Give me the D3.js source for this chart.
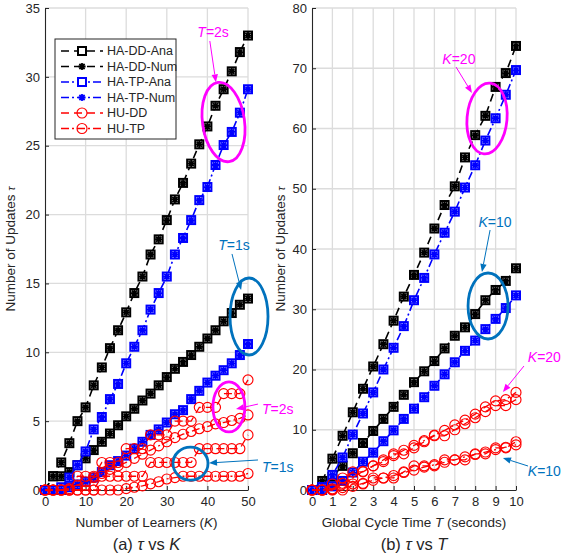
<!DOCTYPE html>
<html>
<head>
<meta charset="utf-8">
<script src="https://cdn.jsdelivr.net/npm/d3@7"></script>
<style>
body { margin: 0; background: #fff; }
text { font-family: "Liberation Sans", Arial, sans-serif; fill: #262626; }
</style>
</head>
<body>
<svg id="chart" width="564" height="557"></svg>
<script>
// ---- data: panel (a), tau vs K ----
var kVals = [0,2,4,6,8,10,12,14,16,18,20,22,24,26,28,30,32,34,36,38,40,42,44,46,48,50];
var haDD_T2 = [0,1,2,3.4,5,6,7.6,8.9,10.3,11.6,12.9,14.3,15.5,17.1,18.2,19.6,21.1,22.3,23.7,25.1,26.4,27.9,29.1,30.4,31.8,33.0];
var haDD_T1 = [0,1,1,1.3,1.8,2.3,2.9,3.5,4.1,4.7,5.35,5.9,6.5,7.0,7.6,8.2,8.8,9.3,9.8,10.4,11.0,11.6,12.25,12.85,13.45,13.9];
var haTP_T2 = [0,0,0.2,0.9,1.8,2.8,4.4,5.3,6.6,7.7,9.2,10.4,11.6,13.1,14.3,15.5,17.1,18.3,19.6,21.05,22.0,23.6,25.05,26.0,27.4,29.1];
var haTP_T1 = [0,0,0,0.2,0.4,0.6,0.9,1.3,1.8,2.1,2.5,3.0,3.5,4.0,4.4,4.9,5.5,5.8,6.6,7.2,7.8,8.3,8.7,9.2,9.8,10.6];
var huDD_T2 = [0,0,0,0,1,1,1,2,2,2,3,3,3,4,4,4,5,5,5,6,6,6,7,7,7,8];
var huDD_T1 = [0,0,0,0,0,0,0,1,1,1,1,1,1,2,2,2,2,2,2,3,3,3,3,3,3,4];
var huTP_T2 = [0,0,0,0.1,0.35,0.6,0.9,1.2,1.5,1.75,2.0,2.3,2.6,2.9,3.2,3.5,3.8,4.05,4.25,4.45,4.6,4.8,4.9,5.05,5.2,5.45];
var huTP_T1 = [0,0,0,0,0,0,0,0,0,0,0.1,0.2,0.3,0.45,0.6,0.8,0.9,1,1,1,1,1,1,1,1,1.2];

// ---- data: panel (b), tau vs T ----
var tVals = [0,0.5,1,1.5,2,2.5,3,3.5,4,4.5,5,5.5,6,6.5,7,7.5,8,8.5,9,9.5,10];
var haDD_K20 = [0,1.5,5.2,9.0,12.9,16.8,20.5,24.2,28.1,32.1,35.7,39.4,43.4,47.3,50.4,55.2,58.9,62.1,66.9,69.2,73.7];
var haTP_K20 = [0,0.5,2.5,5.4,9.2,12.7,16.2,20.0,23.6,27.2,31.5,35.2,39.1,42.7,46.2,50.2,53.9,58.0,61.7,65.6,69.7];
var haDD_K10 = [0,0.5,2.2,4.0,6.1,7.8,9.8,11.8,13.8,15.8,17.9,19.7,21.4,23.5,25.6,27.0,29.2,31.5,33.2,34.7,36.8];
var haTP_K10 = [0,0,0.6,1.5,2.9,4.7,6.2,8.1,9.9,11.8,13.5,15.4,17.3,19.2,21.2,23.1,24.8,26.7,28.4,30.2,32.3];
var huDD_K20 = [0,0,1,2,3,3,4,5,6,6,7,8,9,9,10,11,12,13,14,14,15];
var huTP_K20 = [0,0,0.2,1.1,2.0,3.1,4.0,4.7,5.7,6.6,7.4,8.2,9.1,9.9,10.8,11.6,12.6,13.8,14.8,15.0,16.2];
var huDD_K10 = [0,0,0,0,1,1,2,2,2,3,4,4,4,5,5,5,6,6,7,7,8];
var huTP_K10 = [0,0,0.05,0.4,0.6,1.1,1.6,2.0,2.4,2.9,3.3,3.8,4.2,4.6,5.0,5.5,5.9,6.3,6.7,7.1,7.5];

var legendLabels = ['HA-DD-Ana','HA-DD-Num','HA-TP-Ana','HA-TP-Num','HU-DD','HU-TP'];

var BLACK = '#000000', BLUE = '#0000ff', RED = '#ff0000', MAGENTA = '#ff00ff', TEAL = '#0072bd';
var DASH = '8,5', DASHDOT = '8,3,2,3';

var svg = d3.select('#chart');

// marker helpers
function squareMark(sel, color) {
  sel.append('rect').attr('x',-4).attr('y',-4).attr('width',8).attr('height',8)
    .attr('fill','#fff').attr('stroke',color).attr('stroke-width',2);
}
function starMark(sel, color) {
  sel.append('path').attr('d','M-3.6,0H3.6M0,-3.6V3.6M-2.6,-2.6L2.6,2.6M-2.6,2.6L2.6,-2.6')
    .attr('fill','none').attr('stroke',color).attr('stroke-width',1.8);
}
function circleMark(sel, color) {
  sel.append('circle').attr('r',5).attr('fill','none').attr('stroke',color).attr('stroke-width',1.15);
}

function arrow(g, x1, y1, x2, y2, color) {
  var a = Math.atan2(y2 - y1, x2 - x1), L = 8, w = 3.2;
  var bx = x2 - L * Math.cos(a), by = y2 - L * Math.sin(a);
  g.append('line').attr('x1',x1).attr('y1',y1).attr('x2',bx).attr('y2',by)
    .attr('stroke',color).attr('stroke-width',1);
  g.append('path')
    .attr('d','M'+x2+','+y2+'L'+(bx - w*Math.sin(a))+','+(by + w*Math.cos(a))+'L'+(bx + w*Math.sin(a))+','+(by - w*Math.cos(a))+'Z')
    .attr('fill',color);
}

function drawPanel(cfg) {
  var g = svg.append('g');
  var x = d3.scaleLinear().domain(cfg.xDomain).range(cfg.xRange);
  var y = d3.scaleLinear().domain(cfg.yDomain).range([490, 8]);

  // grid
  g.selectAll('.vgrid').data(cfg.xGrid).join('line')
    .attr('x1',d => x(d)).attr('x2',d => x(d)).attr('y1',y.range()[0]).attr('y2',y.range()[1])
    .attr('stroke','#dcdcdc').attr('stroke-width',1.3);
  g.selectAll('.hgrid').data(cfg.yGrid).join('line')
    .attr('y1',d => y(d)).attr('y2',d => y(d)).attr('x1',x.range()[0]).attr('x2',x.range()[1])
    .attr('stroke','#dcdcdc').attr('stroke-width',1.3);

  // axes
  var xa = g.append('g').attr('transform','translate(0,490)')
    .call(d3.axisBottom(x).tickValues(cfg.xTicks).tickSize(-4).tickPadding(7).tickSizeOuter(0));
  var ya = g.append('g').attr('transform','translate('+x.range()[0]+',0)')
    .call(d3.axisLeft(y).tickValues(cfg.yTicks).tickSize(-4).tickPadding(5).tickSizeOuter(0));
  [xa, ya].forEach(function (a) {
    a.select('.domain').attr('stroke','#262626').attr('stroke-width',1.1);
    a.selectAll('.tick line').attr('stroke','#262626');
    a.selectAll('.tick text').attr('font-size',13).attr('fill','#262626')
      .attr('font-family','"Liberation Sans", Arial, sans-serif');
  });

  // series
  var line = d3.line().x((d,i) => x(cfg.xs[i])).y(d => y(d));
  cfg.series.forEach(function (s) {
    g.append('path').datum(s.values).attr('d',line).attr('fill','none')
      .attr('stroke',s.color).attr('stroke-width',s.kind === 'ha' ? 1.6 : 1.3).attr('stroke-dasharray',s.dash);
    var m = g.append('g').selectAll('g').data(s.values).join('g')
      .attr('transform',(d,i) => 'translate('+x(cfg.xs[i])+','+y(d)+')');
    if (s.kind === 'ha') { m.each(function () { squareMark(d3.select(this), s.color); starMark(d3.select(this), s.color); }); }
    else { m.each(function () { circleMark(d3.select(this), s.color); }); }
  });

  // annotations
  cfg.ellipses.forEach(function (e) {
    g.append('ellipse').attr('cx',0).attr('cy',0).attr('rx',e.rx).attr('ry',e.ry)
      .attr('transform','translate('+x(e.cx)+','+y(e.cy)+') rotate('+(e.rot||0)+')')
      .attr('fill','none').attr('stroke',e.color).attr('stroke-width',2.8);
  });
  cfg.arrows.forEach(function (a) { arrow(g, x(a.x1), y(a.y1), x(a.x2), y(a.y2), a.color); });
  cfg.notes.forEach(function (n) {
    var t = g.append('text').attr('x',x(n.x)).attr('y',y(n.y)).attr('font-size',14)
      .attr('text-anchor',n.anchor).style('fill',n.color);
    t.append('tspan').attr('font-style','italic').text(n.sym);
    t.append('tspan').text('=' + n.val);
  });

  // axis labels
  var cx = (x.range()[0] + x.range()[1]) / 2;
  var xl = g.append('text').attr('x',cx).attr('y',527).attr('text-anchor','middle').attr('font-size',13.5);
  cfg.xLabel.forEach(p => xl.append('tspan').attr('font-style',p[1] ? 'italic' : null).text(p[0]));
  var yl = g.append('text').attr('transform','translate('+cfg.yLabelX+',249) rotate(-90)')
    .attr('text-anchor','middle').attr('font-size',13.5);
  yl.append('tspan').text('Number of Updates ');
  yl.append('tspan').attr('font-style','italic').attr('font-size',11).text('τ');
  var cap = g.append('text').attr('x',cx).attr('y',550).attr('text-anchor','middle').attr('font-size',16.5);
  cfg.caption.forEach(p => cap.append('tspan').attr('font-style',p[1] ? 'italic' : null).text(p[0]));
  return g;
}

drawPanel({
  xDomain:[0,50], xRange:[45,248], yDomain:[0,35],
  xTicks:[0,10,20,30,40,50], yTicks:[0,5,10,15,20,25,30,35],
  xGrid:[10,20,30,40,50], yGrid:[5,10,15,20,25,30,35],
  xs:kVals,
  series:[
    {values:haDD_T2, color:BLACK, dash:DASH, kind:'ha'},
    {values:haDD_T1, color:BLACK, dash:DASH, kind:'ha'},
    {values:haTP_T2, color:BLUE, dash:DASHDOT, kind:'ha'},
    {values:haTP_T1, color:BLUE, dash:DASHDOT, kind:'ha'},
    {values:huDD_T2, color:RED, dash:DASH, kind:'hu'},
    {values:huDD_T1, color:RED, dash:DASH, kind:'hu'},
    {values:huTP_T2, color:RED, dash:DASHDOT, kind:'hu'},
    {values:huTP_T1, color:RED, dash:DASHDOT, kind:'hu'}
  ],
  ellipses:[
    {cx:43.97, cy:26.72, rx:21, ry:40, rot:-8, color:MAGENTA},
    {cx:50.25, cy:12.6, rx:19, ry:38.5, rot:0, color:TEAL},
    {cx:45.3, cy:6.03, rx:16, ry:25, rot:0, color:MAGENTA},
    {cx:35.84, cy:1.92, rx:17.5, ry:16.5, rot:0, color:TEAL}
  ],
  arrows:[
    {x1:40.6, y1:32.6, x2:42.1, y2:29.6, color:MAGENTA},
    {x1:46.06, y1:17.14, x2:48.3, y2:14.52, color:TEAL},
    {x1:52.46, y1:6.24, x2:47.04, y2:5.88, color:MAGENTA},
    {x1:52.46, y1:2.18, x2:40.4, y2:1.96, color:TEAL}
  ],
  notes:[
    {x:41.4, y:32.9, anchor:'middle', sym:'T', val:'2s', color:MAGENTA},
    {x:46.55, y:17.43, anchor:'middle', sym:'T', val:'1s', color:TEAL},
    {x:53.45, y:5.5, anchor:'start', sym:'T', val:'2s', color:MAGENTA},
    {x:53.45, y:1.3, anchor:'start', sym:'T', val:'1s', color:TEAL}
  ],
  xLabel:[['Number of Learners ('],['K',true],[')']],
  caption:[['(a) '],['τ',true],[' vs '],['K',true]],
  yLabelX:15
});

drawPanel({
  xDomain:[0,10], xRange:[312,516], yDomain:[0,80],
  xTicks:[0,1,2,3,4,5,6,7,8,9,10], yTicks:[0,10,20,30,40,50,60,70,80],
  xGrid:[1,2,3,4,5,6,7,8,9,10], yGrid:[10,20,30,40,50,60,70,80],
  xs:tVals,
  series:[
    {values:haDD_K20, color:BLACK, dash:DASH, kind:'ha'},
    {values:haDD_K10, color:BLACK, dash:DASH, kind:'ha'},
    {values:haTP_K20, color:BLUE, dash:DASHDOT, kind:'ha'},
    {values:haTP_K10, color:BLUE, dash:DASHDOT, kind:'ha'},
    {values:huDD_K20, color:RED, dash:DASH, kind:'hu'},
    {values:huDD_K10, color:RED, dash:DASH, kind:'hu'},
    {values:huTP_K20, color:RED, dash:DASHDOT, kind:'hu'},
    {values:huTP_K10, color:RED, dash:DASHDOT, kind:'hu'}
  ],
  ellipses:[
    {cx:8.58, cy:61.66, rx:20, ry:35.5, rot:5, color:MAGENTA},
    {cx:8.63, cy:30.54, rx:20, ry:33, rot:0, color:TEAL}
  ],
  arrows:[
    {x1:7.06, y1:70.2, x2:7.84, y2:65.9, color:MAGENTA},
    {x1:8.73, y1:43.15, x2:8.33, y2:36.18, color:TEAL},
    {x1:10.39, y1:20.58, x2:9.36, y2:16.27, color:MAGENTA},
    {x1:10.59, y1:3.98, x2:9.36, y2:5.31, color:TEAL}
  ],
  notes:[
    {x:7.2, y:70.7, anchor:'middle', sym:'K', val:'20', color:MAGENTA},
    {x:8.97, y:43.65, anchor:'middle', sym:'K', val:'10', color:TEAL},
    {x:12.2, y:21.3, anchor:'end', sym:'K', val:'20', color:MAGENTA},
    {x:12.2, y:2.3, anchor:'end', sym:'K', val:'10', color:TEAL}
  ],
  xLabel:[['Global Cycle Time '],['T',true],[' (seconds)']],
  caption:[['(b) '],['τ',true],[' vs '],['T',true]],
  yLabelX:285
});

// legend (panel a, upper left)
var leg = svg.append('g');
leg.append('rect').attr('x',55).attr('y',39).attr('width',121).attr('height',100)
  .attr('fill','#fff').attr('stroke','#262626').attr('stroke-width',1);
var legStyle = [
  {color:BLACK, dash:DASH, mark:'sq'}, {color:BLACK, dash:DASH, mark:'star'},
  {color:BLUE, dash:DASHDOT, mark:'sq'}, {color:BLUE, dash:DASHDOT, mark:'star'},
  {color:RED, dash:DASH, mark:'circ'}, {color:RED, dash:DASHDOT, mark:'circ'}
];
legendLabels.forEach(function (lab, i) {
  var ry = 51 + i * 15.5, st = legStyle[i];
  leg.append('line').attr('x1',61).attr('x2',103).attr('y1',ry).attr('y2',ry)
    .attr('stroke',st.color).attr('stroke-width',1.6).attr('stroke-dasharray',st.dash);
  var m = leg.append('g').attr('transform','translate(82,'+ry+')');
  if (st.mark === 'sq') squareMark(m, st.color);
  else if (st.mark === 'star') starMark(m, st.color);
  else circleMark(m, st.color);
  leg.append('text').attr('x',107).attr('y',ry).attr('dy','0.35em').attr('font-size',12.5).text(lab);
});
</script>
</body>
</html>
